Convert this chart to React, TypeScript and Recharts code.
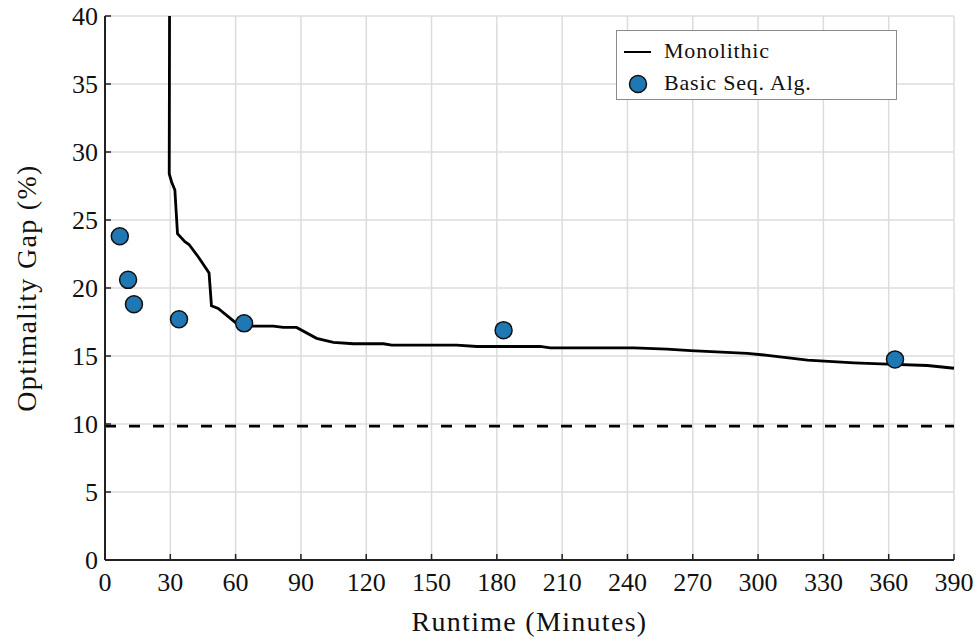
import React from "react";
import {
  ComposedChart,
  Line,
  Scatter,
  XAxis,
  YAxis,
  CartesianGrid,
  ReferenceLine,
  Legend,
} from "recharts";

// Monolithic solver: optimality gap over time
const monoMinutes = [
  29.9, 29.5, 30.6, 32.1, 33.3, 36.7, 38.6, 42.8, 46.6, 47.8, 48.9, 52.0, 60.4,
  65.0, 77.3, 81.9, 88.0, 97.2, 104.9, 114.1, 127.9, 131.7, 161.6, 170.8, 199.9,
  204.5, 242.9, 258.2, 269.0, 295.1, 304.3, 322.7, 344.1, 359.4, 377.8, 390,
];
const monoGap = [
  60, 28.4, 27.8, 27.2, 24.0, 23.4, 23.2, 22.3, 21.4, 21.1, 18.7, 18.5, 17.4,
  17.2, 17.2, 17.1, 17.1, 16.3, 16.0, 15.9, 15.9, 15.8, 15.8, 15.7, 15.7, 15.6,
  15.6, 15.5, 15.4, 15.2, 15.05, 14.7, 14.5, 14.4, 14.3, 14.1,
];

// Basic sequential algorithm runs
const seqMinutes = [6.8, 10.6, 13.3, 34.0, 63.9, 183.1, 362.9];
const seqGap = [23.8, 20.6, 18.8, 17.7, 17.4, 16.9, 14.75];

const boundGap = 9.85;

const xTicks = [0, 30, 60, 90, 120, 150, 180, 210, 240, 270, 300, 330, 360, 390];
const yTicks = [0, 5, 10, 15, 20, 25, 30, 35, 40];

const FONT = "Liberation Serif, DejaVu Serif, serif";

const monoData = monoMinutes.map((x, i) => ({ x, y: monoGap[i] }));
const seqData = seqMinutes.map((x, i) => ({ x, y: seqGap[i] }));

const XTick = ({ x, y, payload }: any) => (
  <g>
    <line x1={x} x2={x} y1={y} y2={y - 6} stroke="#222" strokeWidth={1.5} />
    <text x={x} y={y + 31} textAnchor="middle" style={{ fontFamily: FONT, fontSize: 26 }} fill="#111">
      {payload.value}
    </text>
  </g>
);

const YTick = ({ x, y, payload }: any) => (
  <g>
    <line x1={x} x2={x + 6} y1={y} y2={y} stroke="#222" strokeWidth={1.5} />
    <text x={x - 7} y={y + 9} textAnchor="end" style={{ fontFamily: FONT, fontSize: 26 }} fill="#111">
      {payload.value}
    </text>
  </g>
);

const Dot = ({ cx, cy }: any) => (
  <circle cx={cx} cy={cy} r={8.5} fill="#1f77b4" stroke="#111" strokeWidth={1.5} />
);

const LegendBox = () => (
  <div
    style={{
      width: 279,
      height: 68,
      border: "1.5px solid #8a8a8a",
      background: "#fff",
      fontFamily: FONT,
      fontSize: 22,
      letterSpacing: 0.8,
      color: "#111",
      position: "relative",
    }}
  >
    <svg width={40} height={68} style={{ position: "absolute", left: 0, top: 0 }}>
      <line x1={7} x2={34} y1={21} y2={21} stroke="#000" strokeWidth={2} />
      <circle cx={21} cy={53} r={8.5} fill="#1f77b4" stroke="#111" strokeWidth={1.5} />
    </svg>
    <div style={{ position: "absolute", left: 47, top: 7 }}>Monolithic</div>
    <div style={{ position: "absolute", left: 47, top: 39 }}>Basic Seq. Alg.</div>
  </div>
);

export default function App() {
  return (
    <div style={{ position: "absolute", left: 0, top: 0, background: "#fff" }}>
      <ComposedChart
        width={980}
        height={641}
        margin={{ top: 16, right: 26, bottom: 0, left: 0 }}
      >
        <CartesianGrid stroke="#dcdcdc" strokeWidth={1.5} />
        <XAxis
          type="number"
          dataKey="x"
          domain={[0, 390]}
          ticks={xTicks}
          height={81}
          tickSize={0}
          tickMargin={0}
          tickLine={false}
          tick={<XTick />}
          axisLine={{ stroke: "#222", strokeWidth: 2 }}
          label={{
            content: ({ viewBox }: any) => (
              <text
                x={viewBox.x + viewBox.width / 2}
                y={631}
                textAnchor="middle"
                style={{ fontFamily: FONT, fontSize: 28, letterSpacing: 1.3 }}
                fill="#111"
              >
                Runtime (Minutes)
              </text>
            ),
          }}
        />
        <YAxis
          type="number"
          domain={[0, 40]}
          ticks={yTicks}
          allowDataOverflow
          width={105}
          tickSize={0}
          tickMargin={0}
          tickLine={false}
          tick={<YTick />}
          axisLine={{ stroke: "#222", strokeWidth: 2 }}
          label={{
            content: ({ viewBox }: any) => {
              const cy = viewBox.y + viewBox.height / 2;
              return (
                <text
                  x={36}
                  y={cy}
                  transform={`rotate(-90, 36, ${cy})`}
                  textAnchor="middle"
                  style={{ fontFamily: FONT, fontSize: 28, letterSpacing: 1.3 }}
                  fill="#111"
                >
                  Optimality Gap (%)
                </text>
              );
            },
          }}
        />
        <ReferenceLine
          y={boundGap}
          stroke="#000"
          strokeWidth={2.8}
          strokeDasharray="11 13"
        />
        <Line
          data={monoData}
          dataKey="y"
          name="Monolithic"
          type="linear"
          stroke="#000"
          strokeWidth={2.8}
          dot={false}
          isAnimationActive={false}
        />
        <Scatter
          data={seqData}
          dataKey="y"
          name="Basic Seq. Alg."
          shape={<Dot />}
          isAnimationActive={false}
        />
        <Legend
          layout="vertical"
          align="center"
          verticalAlign="middle"
          content={<LegendBox />}
          wrapperStyle={{ left: 616, top: 30, width: 282, height: 71 }}
        />
      </ComposedChart>
    </div>
  );
}
